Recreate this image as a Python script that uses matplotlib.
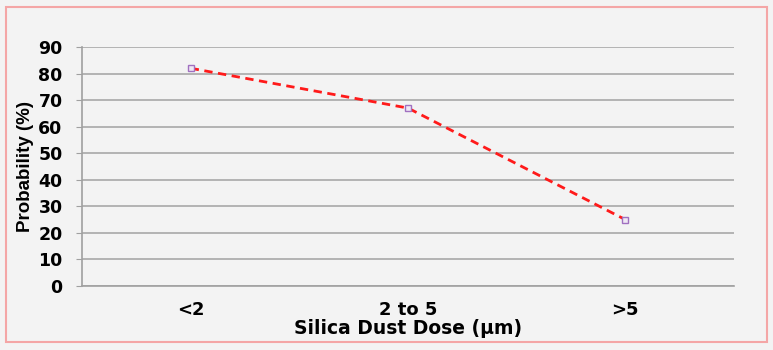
import matplotlib.pyplot as plt
from matplotlib.patches import Rectangle

categories = ['<2', '2 to 5', '>5']
probability = [82, 67, 25]
yticks = [0, 10, 20, 30, 40, 50, 60, 70, 80, 90]

plt.rcParams['font.family'] = ['DejaVu Sans']
plt.rcParams['font.weight'] = 'bold'

fig = plt.figure(figsize=(7.73, 3.5), dpi=100)
fig.patch.set_facecolor('#f3f3f3')

# pink outer border
fig.patches.append(Rectangle((6 / 773, 1 - 342 / 350), 761 / 773, 335 / 350,
                             transform=fig.transFigure, fill=False,
                             edgecolor='#f4a6a6', linewidth=1.5))

ax = fig.add_axes([82 / 773, 1 - 286 / 350, (734 - 82) / 773, (286 - 47) / 350])
ax.set_facecolor('#f3f3f3')

x = [i + 0.5 for i in range(len(categories))]
ax.plot(x, probability, color='#ff1a1a', linestyle='--', linewidth=2,
        dashes=(3, 2), marker='s', markersize=4, markerfacecolor='#f0e8f4',
        markeredgecolor='#a070c0', markeredgewidth=1, zorder=3)

ax.set_xlim(0, 3)
ax.set_ylim(0, 90)
ax.set_yticks(yticks)
ax.set_xticks(x)
ax.set_xticklabels(categories, fontsize=13, fontweight='bold')
ax.tick_params(axis='y', labelsize=12.5, length=4, color='#a0a0a0', pad=10)
ax.tick_params(axis='x', length=0, pad=11)
for lbl in ax.get_yticklabels():
    lbl.set_fontweight('bold')

ax.grid(axis='y', color='#a8a8a8', linewidth=1.2)
ax.set_axisbelow(True)
for side in ['top', 'right']:
    ax.spines[side].set_visible(False)
for side in ['left', 'bottom']:
    ax.spines[side].set_color('#a0a0a0')
    ax.spines[side].set_linewidth(1.2)

ax.set_ylabel('Probability (%)', fontsize=13.5, fontweight='bold', labelpad=3,
              family='Liberation Sans')
ax.set_xlabel('Silica Dust Dose (µm)', fontsize=13.5, fontweight='bold', labelpad=0)

fig.savefig('out.png', dpi=100, facecolor=fig.get_facecolor())
